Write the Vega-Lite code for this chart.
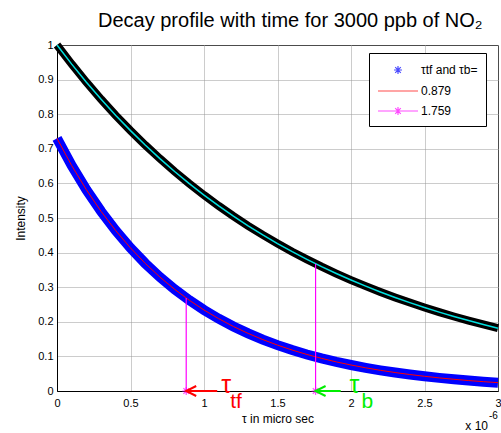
{
  "$schema": "https://vega.github.io/schema/vega-lite/v6.json",
  "width": 441,
  "height": 346,
  "autosize": "none",
  "padding": {"left": 57, "top": 45, "right": 3, "bottom": 42},
  "background": "white",
  "title": {"text": "Decay profile with time for 3000 ppb of NO₂", "anchor": "start", "frame": "group", "dx": 41, "dy": 25, "offset": 7, "baseline": "alphabetic", "fontSize": 20, "fontWeight": "normal", "font": "Liberation Sans", "color": "black"},
  "datasets": {
    "curves": [
      {"t": 0, "slow": 1, "fast": 0.73},
      {"t": 0.1, "slow": 0.9447, "fast": 0.6515},
      {"t": 0.2, "slow": 0.8925, "fast": 0.5815},
      {"t": 0.3, "slow": 0.8431, "fast": 0.519},
      {"t": 0.4, "slow": 0.7965, "fast": 0.4632},
      {"t": 0.5, "slow": 0.7525, "fast": 0.4134},
      {"t": 0.6, "slow": 0.7109, "fast": 0.369},
      {"t": 0.7, "slow": 0.6716, "fast": 0.3293},
      {"t": 0.8, "slow": 0.6345, "fast": 0.2939},
      {"t": 0.9, "slow": 0.5994, "fast": 0.2623},
      {"t": 1.0, "slow": 0.5663, "fast": 0.2341},
      {"t": 1.1, "slow": 0.535, "fast": 0.209},
      {"t": 1.2, "slow": 0.5054, "fast": 0.1865},
      {"t": 1.3, "slow": 0.4775, "fast": 0.1665},
      {"t": 1.4, "slow": 0.4511, "fast": 0.1486},
      {"t": 1.5, "slow": 0.4262, "fast": 0.1326},
      {"t": 1.6, "slow": 0.4026, "fast": 0.1183},
      {"t": 1.7, "slow": 0.3804, "fast": 0.1056},
      {"t": 1.8, "slow": 0.3593, "fast": 0.0943},
      {"t": 1.9, "slow": 0.3395, "fast": 0.0841},
      {"t": 2.0, "slow": 0.3207, "fast": 0.0751},
      {"t": 2.1, "slow": 0.303, "fast": 0.067},
      {"t": 2.2, "slow": 0.2862, "fast": 0.0598},
      {"t": 2.3, "slow": 0.2704, "fast": 0.0534},
      {"t": 2.4, "slow": 0.2555, "fast": 0.0476},
      {"t": 2.5, "slow": 0.2414, "fast": 0.0425},
      {"t": 2.6, "slow": 0.228, "fast": 0.0379},
      {"t": 2.7, "slow": 0.2154, "fast": 0.0339},
      {"t": 2.8, "slow": 0.2035, "fast": 0.0302},
      {"t": 2.9, "slow": 0.1923, "fast": 0.027},
      {"t": 3.0, "slow": 0.1816, "fast": 0.0241}
    ],
    "marks": [
      {"t": 0.879, "top": 0.2686, "end": 1.09, "lab": "tf", "which": "tf"},
      {"t": 1.759, "top": 0.3679, "end": 1.93, "lab": "b", "which": "b"}
    ],
    "scalenote": [{"note": "x 10", "exp": "-6"}]
  },
  "layer": [
    {
      "data": {"name": "curves"},
      "mark": {"type": "line", "color": "black", "strokeWidth": 8},
      "encoding": {
        "x": {"field": "t", "type": "quantitative", "title": "τ in micro sec", "scale": {"domain": [0, 3], "nice": false, "zero": false}, "axis": {"values": [0, 0.5, 1, 1.5, 2, 2.5, 3], "labelExpr": "format(datum.value, '~g')"}},
        "y": {"field": "slow", "type": "quantitative", "title": "Intensity", "scale": {"domain": [0, 1], "nice": false}, "axis": {"values": [0, 0.1, 0.2, 0.3, 0.4, 0.5, 0.6, 0.7, 0.8, 0.9, 1], "labelExpr": "format(datum.value, '~g')"}}
      }
    },
    {
      "data": {"name": "curves"},
      "mark": {"type": "line", "color": "#00e0e0", "strokeWidth": 1.5},
      "encoding": {
        "x": {"field": "t", "type": "quantitative", "axis": {"values": [0, 0.5, 1, 1.5, 2, 2.5, 3], "labelExpr": "format(datum.value, '~g')"}},
        "y": {"field": "slow", "type": "quantitative", "axis": {"values": [0, 0.1, 0.2, 0.3, 0.4, 0.5, 0.6, 0.7, 0.8, 0.9, 1], "labelExpr": "format(datum.value, '~g')"}}
      }
    },
    {
      "data": {"name": "curves"},
      "mark": {"type": "line", "color": "#0000ff", "strokeWidth": 10},
      "encoding": {
        "x": {"field": "t", "type": "quantitative", "axis": {"values": [0, 0.5, 1, 1.5, 2, 2.5, 3], "labelExpr": "format(datum.value, '~g')"}},
        "y": {"field": "fast", "type": "quantitative", "axis": {"values": [0, 0.1, 0.2, 0.3, 0.4, 0.5, 0.6, 0.7, 0.8, 0.9, 1], "labelExpr": "format(datum.value, '~g')"}}
      }
    },
    {
      "data": {"name": "curves"},
      "mark": {"type": "line", "color": "#ff0000", "strokeWidth": 1},
      "encoding": {
        "x": {"field": "t", "type": "quantitative", "axis": {"values": [0, 0.5, 1, 1.5, 2, 2.5, 3], "labelExpr": "format(datum.value, '~g')"}},
        "y": {"field": "fast", "type": "quantitative", "axis": {"values": [0, 0.1, 0.2, 0.3, 0.4, 0.5, 0.6, 0.7, 0.8, 0.9, 1], "labelExpr": "format(datum.value, '~g')"}}
      }
    },
    {
      "data": {"name": "curves"},
      "transform": [{"filter": "datum.t < 0"}],
      "mark": {"type": "point", "filled": false, "strokeWidth": 1.2},
      "encoding": {
        "x": {"field": "t", "type": "quantitative", "axis": {"values": [0, 0.5, 1, 1.5, 2, 2.5, 3], "labelExpr": "format(datum.value, '~g')"}},
        "y": {"field": "fast", "type": "quantitative", "axis": {"values": [0, 0.1, 0.2, 0.3, 0.4, 0.5, 0.6, 0.7, 0.8, 0.9, 1], "labelExpr": "format(datum.value, '~g')"}},
        "color": {"field": "lg", "type": "nominal", "scale": {"domain": ["τtf and τb=     ", "0.879", "1.759"], "range": ["#0000ff", "#ff0000", "#ff00ff"]},
          "legend": {"title": null, "orient": "none", "legendX": 312, "legendY": 8, "fillColor": "white", "strokeColor": "black", "padding": 8, "rowPadding": 5, "symbolSize": 256, "symbolOffset": 12, "labelOffset": 14, "labelFont": "Liberation Sans", "labelFontSize": 12, "labelColor": "black", "symbolStrokeWidth": 1.2, "cornerRadius": 0}},
        "shape": {"field": "lg", "type": "nominal", "scale": {"domain": ["τtf and τb=     ", "0.879", "1.759"], "range": [
          "M-0.5,0L0.5,0M0,-0.5L0,0.5M-0.35,-0.35L0.35,0.35M-0.35,0.35L0.35,-0.35",
          "M-2.5,0L2.5,0",
          "M-2.5,0L2.5,0M0,-0.5L0,0.5M-0.35,-0.35L0.35,0.35M-0.35,0.35L0.35,-0.35"
        ]}}
      }
    },
    {
      "data": {"name": "marks"},
      "mark": {"type": "rule", "color": "#ff00ff", "strokeWidth": 1.2},
      "encoding": {
        "x": {"field": "t", "type": "quantitative", "axis": {"values": [0, 0.5, 1, 1.5, 2, 2.5, 3], "labelExpr": "format(datum.value, '~g')"}},
        "y": {"field": "top", "type": "quantitative", "axis": {"values": [0, 0.1, 0.2, 0.3, 0.4, 0.5, 0.6, 0.7, 0.8, 0.9, 1], "labelExpr": "format(datum.value, '~g')"}},
        "y2": {"datum": 0}
      }
    },
    {
      "data": {"name": "marks"},
      "mark": {"type": "point", "color": "#ff00ff", "filled": false, "strokeWidth": 1.2, "size": 64, "shape": "M-1,0L1,0M0,-1L0,1M-0.7,-0.7L0.7,0.7M-0.7,0.7L0.7,-0.7"},
      "encoding": {
        "x": {"field": "t", "type": "quantitative", "axis": {"values": [0, 0.5, 1, 1.5, 2, 2.5, 3], "labelExpr": "format(datum.value, '~g')"}},
        "y": {"datum": 0, "type": "quantitative", "axis": {"values": [0, 0.1, 0.2, 0.3, 0.4, 0.5, 0.6, 0.7, 0.8, 0.9, 1], "labelExpr": "format(datum.value, '~g')"}}
      }
    },
    {
      "data": {"name": "marks"},
      "transform": [{"filter": "datum.which == 'tf'"}],
      "mark": {"type": "rule", "strokeWidth": 2, "color": "#ff0000"},
      "encoding": {
        "x": {"field": "t", "type": "quantitative", "axis": {"values": [0, 0.5, 1, 1.5, 2, 2.5, 3], "labelExpr": "format(datum.value, '~g')"}},
        "x2": {"field": "end"},
        "y": {"datum": 0, "type": "quantitative", "axis": {"values": [0, 0.1, 0.2, 0.3, 0.4, 0.5, 0.6, 0.7, 0.8, 0.9, 1], "labelExpr": "format(datum.value, '~g')"}}
      }
    },
    {
      "data": {"name": "marks"},
      "transform": [{"filter": "datum.which == 'b'"}],
      "mark": {"type": "rule", "strokeWidth": 2, "color": "#00ee00"},
      "encoding": {
        "x": {"field": "t", "type": "quantitative", "axis": {"values": [0, 0.5, 1, 1.5, 2, 2.5, 3], "labelExpr": "format(datum.value, '~g')"}},
        "x2": {"field": "end"},
        "y": {"datum": 0, "type": "quantitative", "axis": {"values": [0, 0.1, 0.2, 0.3, 0.4, 0.5, 0.6, 0.7, 0.8, 0.9, 1], "labelExpr": "format(datum.value, '~g')"}}
      }
    },
    {
      "data": {"name": "marks"},
      "transform": [{"filter": "datum.which == 'tf'"}],
      "mark": {"type": "point", "filled": false, "strokeWidth": 2, "size": 400, "opacity": 1, "color": "#ff0000", "shape": "M1,-0.5L0,0L1,0.5"},
      "encoding": {
        "x": {"field": "t", "type": "quantitative", "axis": {"values": [0, 0.5, 1, 1.5, 2, 2.5, 3], "labelExpr": "format(datum.value, '~g')"}},
        "y": {"datum": 0, "type": "quantitative", "axis": {"values": [0, 0.1, 0.2, 0.3, 0.4, 0.5, 0.6, 0.7, 0.8, 0.9, 1], "labelExpr": "format(datum.value, '~g')"}}
      }
    },
    {
      "data": {"name": "marks"},
      "transform": [{"filter": "datum.which == 'b'"}],
      "mark": {"type": "point", "filled": false, "strokeWidth": 2, "size": 400, "opacity": 1, "color": "#00ee00", "shape": "M1,-0.5L0,0L1,0.5"},
      "encoding": {
        "x": {"field": "t", "type": "quantitative", "axis": {"values": [0, 0.5, 1, 1.5, 2, 2.5, 3], "labelExpr": "format(datum.value, '~g')"}},
        "y": {"datum": 0, "type": "quantitative", "axis": {"values": [0, 0.1, 0.2, 0.3, 0.4, 0.5, 0.6, 0.7, 0.8, 0.9, 1], "labelExpr": "format(datum.value, '~g')"}}
      }
    },
    {
      "data": {"name": "marks"},
      "transform": [{"filter": "datum.which == 'tf'"}],
      "mark": {"type": "text", "align": "left", "baseline": "alphabetic", "dx": 35, "dy": 2, "fontSize": 25, "font": "Liberation Sans", "color": "#ff0000"},
      "encoding": {
        "x": {"field": "t", "type": "quantitative", "axis": {"values": [0, 0.5, 1, 1.5, 2, 2.5, 3], "labelExpr": "format(datum.value, '~g')"}},
        "y": {"datum": 0, "type": "quantitative", "axis": {"values": [0, 0.1, 0.2, 0.3, 0.4, 0.5, 0.6, 0.7, 0.8, 0.9, 1], "labelExpr": "format(datum.value, '~g')"}},
        "text": {"value": "τ"}
      }
    },
    {
      "data": {"name": "marks"},
      "transform": [{"filter": "datum.which == 'b'"}],
      "mark": {"type": "text", "align": "left", "baseline": "alphabetic", "dx": 34, "dy": 2, "fontSize": 25, "font": "Liberation Sans", "color": "#00ee00"},
      "encoding": {
        "x": {"field": "t", "type": "quantitative", "axis": {"values": [0, 0.5, 1, 1.5, 2, 2.5, 3], "labelExpr": "format(datum.value, '~g')"}},
        "y": {"datum": 0, "type": "quantitative", "axis": {"values": [0, 0.1, 0.2, 0.3, 0.4, 0.5, 0.6, 0.7, 0.8, 0.9, 1], "labelExpr": "format(datum.value, '~g')"}},
        "text": {"value": "τ"}
      }
    },
    {
      "data": {"name": "marks"},
      "transform": [{"filter": "datum.which == 'tf'"}],
      "mark": {"type": "text", "align": "left", "baseline": "alphabetic", "dx": 44, "dy": 17, "fontSize": 21, "font": "Liberation Sans", "color": "#ff0000"},
      "encoding": {
        "x": {"field": "t", "type": "quantitative", "axis": {"values": [0, 0.5, 1, 1.5, 2, 2.5, 3], "labelExpr": "format(datum.value, '~g')"}},
        "y": {"datum": 0, "type": "quantitative", "axis": {"values": [0, 0.1, 0.2, 0.3, 0.4, 0.5, 0.6, 0.7, 0.8, 0.9, 1], "labelExpr": "format(datum.value, '~g')"}},
        "text": {"field": "lab"}
      }
    },
    {
      "data": {"name": "marks"},
      "transform": [{"filter": "datum.which == 'b'"}],
      "mark": {"type": "text", "align": "left", "baseline": "alphabetic", "dx": 46, "dy": 17, "fontSize": 21, "font": "Liberation Sans", "color": "#00ee00"},
      "encoding": {
        "x": {"field": "t", "type": "quantitative", "axis": {"values": [0, 0.5, 1, 1.5, 2, 2.5, 3], "labelExpr": "format(datum.value, '~g')"}},
        "y": {"datum": 0, "type": "quantitative", "axis": {"values": [0, 0.1, 0.2, 0.3, 0.4, 0.5, 0.6, 0.7, 0.8, 0.9, 1], "labelExpr": "format(datum.value, '~g')"}},
        "text": {"field": "lab"}
      }
    },
    {
      "data": {"name": "scalenote"},
      "mark": {"type": "text", "align": "right", "baseline": "alphabetic", "dx": -10, "dy": 39, "fontSize": 12, "font": "Liberation Sans", "color": "black"},
      "encoding": {
        "x": {"datum": 3, "type": "quantitative", "axis": {"values": [0, 0.5, 1, 1.5, 2, 2.5, 3], "labelExpr": "format(datum.value, '~g')"}},
        "y": {"datum": 0, "type": "quantitative", "axis": {"values": [0, 0.1, 0.2, 0.3, 0.4, 0.5, 0.6, 0.7, 0.8, 0.9, 1], "labelExpr": "format(datum.value, '~g')"}},
        "text": {"field": "note"}
      }
    },
    {
      "data": {"name": "scalenote"},
      "mark": {"type": "text", "align": "left", "baseline": "alphabetic", "dx": -9, "dy": 28, "fontSize": 10, "font": "Liberation Sans", "color": "black"},
      "encoding": {
        "x": {"datum": 3, "type": "quantitative", "axis": {"values": [0, 0.5, 1, 1.5, 2, 2.5, 3], "labelExpr": "format(datum.value, '~g')"}},
        "y": {"datum": 0, "type": "quantitative", "axis": {"values": [0, 0.1, 0.2, 0.3, 0.4, 0.5, 0.6, 0.7, 0.8, 0.9, 1], "labelExpr": "format(datum.value, '~g')"}},
        "text": {"field": "exp"}
      }
    }
  ],
  "config": {
    "view": {"stroke": "black", "strokeWidth": 1},
    "axis": {"domainColor": "black", "labelColor": "black", "titleColor": "black", "labelFont": "Liberation Sans", "titleFont": "Liberation Sans", "labelFontSize": 11, "titleFontSize": 12, "titleFontWeight": "normal", "gridColor": "#999999", "gridDash": [1, 1], "gridOpacity": 1, "ticks": false, "labelOverlap": false, "labelFlush": false},
    "axisX": {"labelPadding": 6, "titlePadding": 5, "labelAngle": 0, "tickCount": 12},
    "axisY": {"labelPadding": 4, "titlePadding": 10, "tickCount": 20}
  }
}
